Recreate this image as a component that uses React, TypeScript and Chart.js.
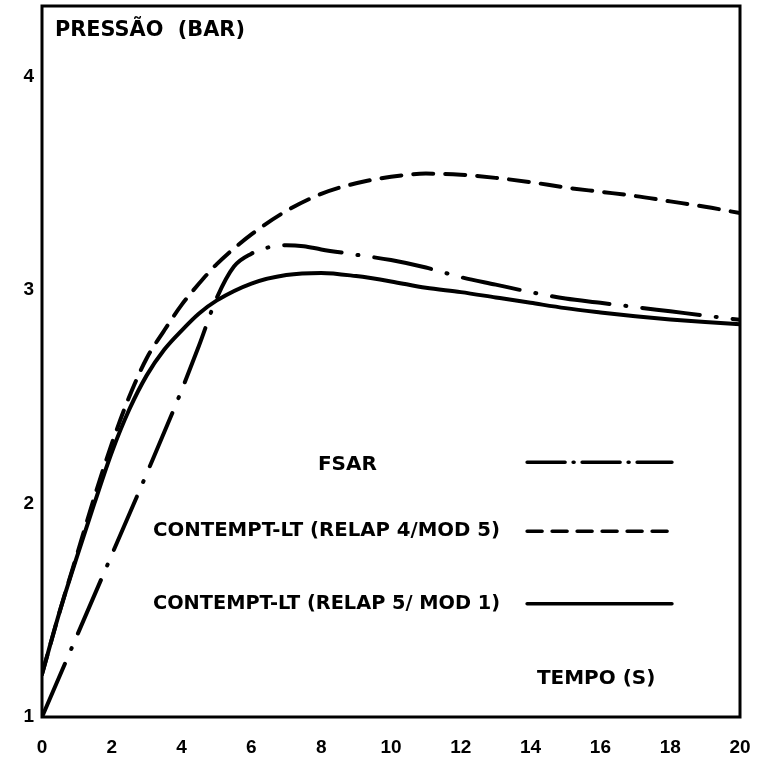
import React, { useEffect, useRef } from "react";
import { Chart, registerables } from "chart.js";

Chart.register(...registerables);

// Tempo (s) / Pressão (bar)
const X_FSAR = [0, 1, 2, 3, 4, 4.5, 5, 5.5, 6, 6.5, 7, 7.5, 8, 9, 10, 11, 12, 13, 14, 15, 16, 17, 18, 19, 20];
const Y_FSAR = [1.0, 1.38, 1.76, 2.14, 2.53, 2.74, 2.96, 3.11, 3.17, 3.2, 3.21, 3.205, 3.19, 3.165, 3.14, 3.105, 3.06, 3.025, 2.99, 2.96, 2.94, 2.92, 2.9, 2.88, 2.86];

const X_R4 = [0, 0.5, 1, 1.5, 2, 2.5, 3, 3.5, 4, 4.5, 5, 6, 7, 8, 9, 10, 11, 12, 13, 14, 15, 16, 17, 18, 19, 20];
const Y_R4 = [1.2, 1.49, 1.76, 2.03, 2.28, 2.5, 2.68, 2.81, 2.93, 3.03, 3.12, 3.26, 3.37, 3.45, 3.5, 3.53, 3.545, 3.54, 3.525, 3.505, 3.48, 3.46, 3.44, 3.415, 3.39, 3.36];

const X_R5 = [0, 0.5, 1, 1.5, 2, 2.5, 3, 3.5, 4, 4.5, 5, 6, 7, 8, 9, 10, 11, 12, 13, 14, 15, 16, 17, 18, 19, 20];
const Y_R5 = [1.2, 1.49, 1.75, 2.0, 2.24, 2.44, 2.6, 2.72, 2.81, 2.89, 2.95, 3.03, 3.07, 3.08, 3.065, 3.04, 3.01, 2.99, 2.965, 2.94, 2.915, 2.895, 2.877, 2.862, 2.85, 2.84];

const X_TICKS = [0, 2, 4, 6, 8, 10, 12, 14, 16, 18, 20];
const Y_TICKS = [1, 2, 3, 4];

const LABEL_FSAR = "FSAR";
const LABEL_R4 = "CONTEMPT-LT (RELAP 4/MOD 5)";
const LABEL_R5 = "CONTEMPT-LT (RELAP 5/ MOD 1)";
const Y_TITLE = "PRESSÃO  (BAR)";
const X_TITLE = "TEMPO (S)";

const DASH_FSAR = [58, 16, 1, 16];
const DASH_R4 = [20, 12];

const pts = (xs: number[], ys: number[]) => xs.map((x, i) => ({ x, y: ys[i] }));

const TEXT_FONT = "bold 20px 'DejaVu Sans', sans-serif";

const overlay = {
  id: "overlay",
  afterDraw(chart: any) {
    const { ctx, chartArea } = chart;
    const xs = chart.scales.x;
    const ys = chart.scales.y;
    const px = (v: number) => xs.getPixelForValue(v);
    const py = (v: number) => ys.getPixelForValue(v);
    ctx.save();
    // frame
    ctx.strokeStyle = "#000";
    ctx.lineWidth = 3;
    ctx.strokeRect(chartArea.left, chartArea.top, chartArea.right - chartArea.left, chartArea.bottom - chartArea.top);

    ctx.fillStyle = "#000";
    ctx.textBaseline = "middle";
    // axis titles
    ctx.textAlign = "left";
    ctx.font = "bold 21px 'DejaVu Sans', sans-serif";
    ctx.fillText(Y_TITLE, px(0.37), py(4.215), 190);
    ctx.font = TEXT_FONT;
    ctx.fillText(X_TITLE, px(14.18), py(1.18), 120);

    // legend
    const lx0 = px(13.9);
    const lx1 = px(18.05);
    const rows = [
      { label: LABEL_FSAR, y: 2.18, ly: 2.193, dash: [38, 8, 1, 8], center: true },
      { label: LABEL_R4, y: 1.87, ly: 1.87, dash: [15, 10], center: false },
      { label: LABEL_R5, y: 1.53, ly: 1.53, dash: [], center: false },
    ];
    rows.forEach((r) => {
      ctx.font = TEXT_FONT;
      if (r.center) {
        ctx.textAlign = "center";
        ctx.fillText(r.label, px(8.75), py(r.y), 60);
      } else {
        ctx.textAlign = "left";
        ctx.fillText(r.label, px(3.18), py(r.y), 347);
      }
      ctx.beginPath();
      ctx.setLineDash(r.dash);
      ctx.lineCap = "round";
      ctx.lineWidth = 3.5;
      ctx.moveTo(lx0, py(r.ly));
      ctx.lineTo(lx1, py(r.ly));
      ctx.stroke();
    });
    ctx.restore();
  },
};

export default function App() {
  const ref = useRef<HTMLCanvasElement>(null);
  useEffect(() => {
    if (!ref.current) return;
    const common = {
      borderColor: "#000",
      backgroundColor: "#000",
      borderWidth: 4,
      pointRadius: 0,
      fill: false,
      cubicInterpolationMode: "monotone" as const,
      borderCapStyle: "round" as const,
      borderJoinStyle: "round" as const,
    };
    const chart = new Chart(ref.current, {
      type: "line",
      data: {
        datasets: [
          { ...common, label: LABEL_FSAR, data: pts(X_FSAR, Y_FSAR), borderDash: DASH_FSAR },
          { ...common, label: LABEL_R4, data: pts(X_R4, Y_R4), borderDash: DASH_R4 },
          { ...common, label: LABEL_R5, data: pts(X_R5, Y_R5) },
        ],
      },
      options: {
        animation: false,
        responsive: false,
        devicePixelRatio: 1,
        layout: { padding: { top: 6, right: 19, left: 0, bottom: 0 } },
        plugins: { legend: { display: false }, tooltip: { enabled: false }, title: { display: false } },
        scales: {
          x: {
            type: "linear",
            min: 0,
            max: 20,
            grid: { display: false, drawTicks: false },
            border: { display: false },
            afterBuildTicks: (s: any) => {
              s.ticks = X_TICKS.map((v) => ({ value: v }));
            },
            afterFit: (s: any) => {
              s.height = 47;
              s.paddingLeft = 0;
              s.paddingRight = 0;
            },
            ticks: {
              color: "#000",
              padding: 19,
              maxRotation: 0,
              autoSkip: false,
              font: { family: "'Liberation Sans', sans-serif", weight: "bold", size: 19 },
            },
          },
          y: {
            type: "linear",
            min: 1,
            max: 4.33,
            grid: { display: false, drawTicks: false },
            border: { display: false },
            afterBuildTicks: (s: any) => {
              s.ticks = Y_TICKS.map((v) => ({ value: v }));
            },
            afterFit: (s: any) => {
              s.width = 42;
              s.paddingTop = 0;
              s.paddingBottom = 0;
            },
            ticks: {
              color: "#000",
              padding: 8,
              font: { family: "'Liberation Sans', sans-serif", weight: "bold", size: 19 },
            },
          },
        },
      },
      plugins: [overlay],
    });
    return () => chart.destroy();
  }, []);
  return (
    <div style={{ position: "absolute", left: 0, top: 0, width: 759, height: 764, background: "#fff" }}>
      <canvas ref={ref} width={759} height={764} style={{ display: "block" }} />
    </div>
  );
}
